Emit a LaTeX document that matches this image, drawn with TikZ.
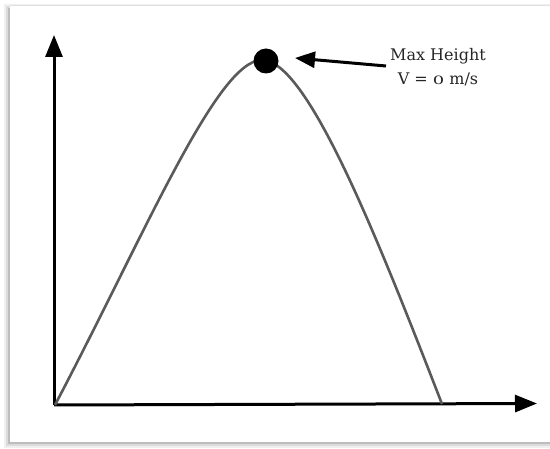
\documentclass[tikz,border=0pt]{standalone}
\usepackage{fontspec}
\usepackage{graphicx}
\newfontfamily\labelfont{DejaVu Serif}
\usetikzlibrary{arrows.meta}
\definecolor{curvegray}{HTML}{5A5A5A}
\definecolor{textgray}{HTML}{262626}
\newcommand{\lowzero}{\scalebox{1.12}[0.72]{0}}
\begin{document}
\begin{tikzpicture}[x=1pt,y=-1pt,
  axisline/.style={line width=3pt,-{Triangle[length=22pt,width=17pt]}},
  pathcurve/.style={line width=2.6pt,curvegray,line join=round},
  ball/.style={circle,fill=black,inner sep=0pt,minimum size=25pt},
  labeltext/.style={align=center,text=textgray,font=\labelfont\fontsize{16}{24}\selectfont,inner sep=0pt},
  pointer/.style={line width=3pt,-{Triangle[length=20pt,width=16pt]}}]
\useasboundingbox (0,0) rectangle (550,449);
% frame with shadow
\fill[black!6] (4,4) rectangle (551,448);
\fill[black!14] (6,6) rectangle (551,446.5);
\fill[black!26] (8,8) rectangle (551,444.5);
\fill[white] (10,5.5) rectangle (551,442);
\draw[black!12,line width=0.8pt] (10,5.5) -- (551,5.5);
% axes
\coordinate (O) at (54,405);
\coordinate (ytop) at (54,35);
\coordinate (xend) at (537,403.5);
\coordinate (land) at (442,404);
\draw[axisline] (O) -- (ytop);
\draw[axisline] (O) -- (xend);
% trajectory
\draw[pathcurve] (55,405) .. controls (145,234) and (217,60) .. (262,60)
  .. controls (307,60) and (376,234) .. (land);
% ball at max height
\node[ball] (top) at (266,61) {};
% label
\node[labeltext] (label) at (438,67) {Max Height\\V = \lowzero{} m/s};
\coordinate (tail) at (386,66);
\coordinate (tip) at (295,58);
\draw[pointer] (tail) -- (tip);
\end{tikzpicture}
\end{document}
